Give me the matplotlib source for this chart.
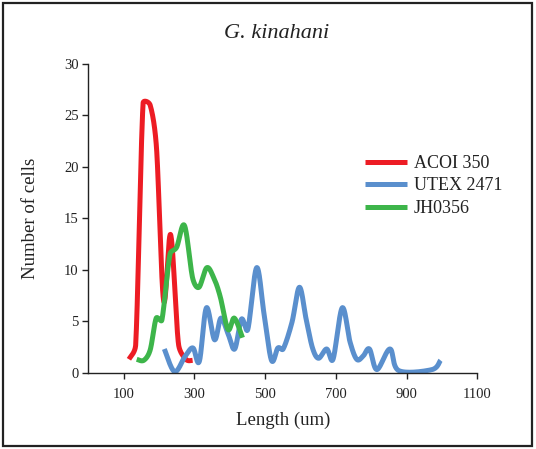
import numpy as np
import matplotlib
matplotlib.use("Agg")
import matplotlib.pyplot as plt
from matplotlib.patches import Rectangle

# Cell length distributions (length in um, number of cells)
acoi_x = [115, 134, 155, 175, 193, 213, 233, 255, 276, 295]
acoi_y = [1.3, 2.7, 26.2, 26.0, 21.8, 7.0, 13.4, 2.8, 1.3, 1.2]

utex_x = [215, 244, 274, 296, 314, 334, 357, 375, 395, 414, 433, 451, 476,
          497, 518, 536, 551, 576, 597, 616, 634, 651, 674, 692, 718, 740,
          759, 777, 795, 816, 853, 878, 972, 996]
utex_y = [2.3, 0.1, 1.6, 2.4, 1.1, 6.3, 3.2, 5.3, 3.8, 2.3, 5.2, 4.2, 10.2,
          5.7, 1.2, 2.4, 2.3, 4.9, 8.3, 5.2, 2.4, 1.4, 2.3, 1.3, 6.3, 3.0,
          1.3, 1.6, 2.3, 0.3, 2.3, 0.2, 0.3, 1.2]

jh_x = [137, 157, 175, 192, 208, 231, 250, 272, 295, 313, 335, 355, 373,
        395, 413, 436]
jh_y = [1.3, 1.2, 2.2, 5.3, 5.1, 11.5, 12.2, 14.3, 9.2, 8.3, 10.2, 9.2,
        7.4, 4.2, 5.3, 3.4]

series_labels = ["ACOI 350", "UTEX 2471", "JH0356"]
series_colors = ["#ED1C24", "#5A8FCD", "#3DB54A"]

x_ticks = [100, 300, 500, 700, 900, 1100]
y_ticks = [0, 5, 10, 15, 20, 25, 30]


def smooth(xs, ys, sx=0.3533, sy=10.29, cap=0.5, n=30):
    """Bezier-smoothed path through the points, built in screen proportions."""
    p = np.column_stack([np.asarray(xs) * sx, np.asarray(ys) * sy]).astype(float)
    m = len(p)
    tang = np.array([(p[min(i + 1, m - 1)] - p[max(i - 1, 0)]) / 6.0
                     for i in range(m)])
    out = []
    t = np.linspace(0, 1, n)[:, None]
    for i in range(m - 1):
        p1, p2 = p[i], p[i + 1]
        L = np.hypot(*(p2 - p1))
        v1, v2 = tang[i].copy(), tang[i + 1].copy()
        for v in (v1, v2):
            nv = np.hypot(*v)
            if nv > cap * L:
                v *= cap * L / nv
        c1 = p1 + v1
        c2 = p2 - v2
        seg = ((1 - t) ** 3) * p1 + 3 * ((1 - t) ** 2) * t * c1 \
            + 3 * (1 - t) * t ** 2 * c2 + t ** 3 * p2
        out.append(seg if i == 0 else seg[1:])
    arr = np.vstack(out)
    return arr[:, 0] / sx, arr[:, 1] / sy


plt.rcParams["font.family"] = ["Liberation Serif", "DejaVu Serif"]

fig = plt.figure(figsize=(5.36, 4.49), dpi=100)
ax = fig.add_axes([0.1647, 0.170, 0.7258, 0.6875])

for xs, ys, lab, col in zip([acoi_x, utex_x, jh_x], [acoi_y, utex_y, jh_y],
                            series_labels, series_colors):
    sx_, sy_ = smooth(xs, ys)
    ax.plot(sx_, sy_, color=col, lw=3.6, label=lab,
            solid_capstyle="butt", solid_joinstyle="round")

ax.set_xlim(0, 1100)
ax.set_ylim(0, 30)
ax.set_xticks(x_ticks)
ax.set_yticks(y_ticks)
ax.tick_params(axis="both", direction="out", length=4, width=1.0,
               labelsize=10.5, colors="#222222", pad=3)
ax.tick_params(axis="x", pad=7)
for side in ["top", "right"]:
    ax.spines[side].set_visible(False)
for side in ["left", "bottom"]:
    ax.spines[side].set_linewidth(1.0)
    ax.spines[side].set_color("#222222")

ax.set_xlabel("Length (um)", fontsize=13.5, color="#222222", labelpad=8)
ax.set_ylabel("Number of cells", fontsize=13.5, color="#222222", labelpad=18)

fig.text(277 / 536, 1 - 38 / 449, "G. kinahani", fontsize=16,
         style="italic", ha="center", va="baseline", color="#222222")

leg = ax.legend(loc="upper left", bbox_to_anchor=(365 / 536, 1 - 155 / 449),
                bbox_transform=fig.transFigure, frameon=False, fontsize=13,
                handlelength=2.35, handletextpad=0.35, labelspacing=0.3,
                borderpad=0, borderaxespad=0)
for t in leg.get_texts():
    t.set_color("#222222")

fig.add_artist(Rectangle((3 / 536, 3 / 449), 1 - 7 / 536, 1 - 6 / 449,
                         transform=fig.transFigure, fill=False,
                         edgecolor="#222222", lw=1.6))

fig.savefig("out.png", dpi=100, facecolor="white")
